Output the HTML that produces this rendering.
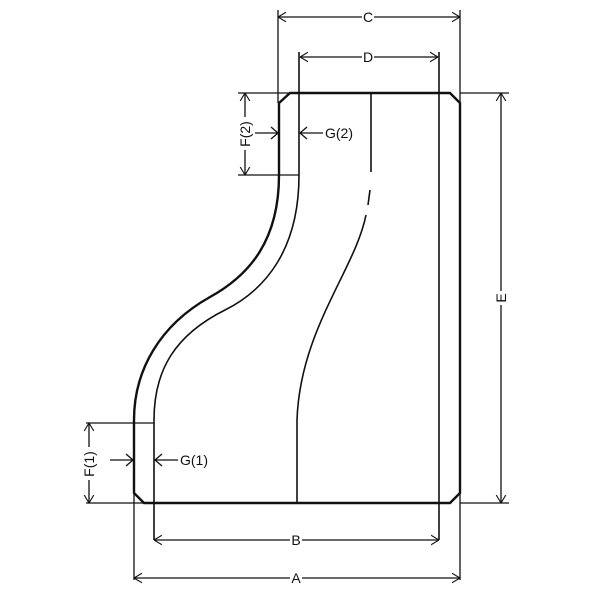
<!DOCTYPE html>
<html><head><style>html,body{margin:0;padding:0;background:#fff}svg{display:block}</style></head>
<body>
<svg width="600" height="600" viewBox="0 0 600 600" xmlns="http://www.w3.org/2000/svg">
<defs>
<marker id="a" viewBox="0 0 10 12" refX="10" refY="6" markerWidth="8" markerHeight="12" markerUnits="userSpaceOnUse" orient="auto-start-reverse">
<path d="M0,0 L10,6 L0,12" fill="none" stroke="#111" stroke-width="1.4"/></marker>
</defs>
<g fill="none" stroke="#111">
<path stroke-width="2.4" d="M290,93 L450,93 L460,103 L460,493 L450,503 L144,503 L134,493 L134,420 C134,370 160,325 210,297 C250,275 279,240 279,175 L279,103 Z"/>
<path stroke-width="1.6" d="M299,52 L299,175 C299,250 265,290 225,310 C175,335 154,370 154,420 L154,540"/>
<path stroke-width="1.6" d="M439,52 L439,540"/>
<path stroke-width="1.6" d="M371,93 L371,172"/>
<path stroke-width="1.6" d="M370,190 L368,205"/>
<path stroke-width="1.6" d="M366,215 C355,270 300,330 297,420 L297,503"/>
<path stroke-width="1.3" d="M278,10 L278,103 M460,10 L460,103 M134,493 L134,580 M460,493 L460,580 M460,93 L509,93 M460,503 L509,503 M238,93 L290,93 M238,175 L299,175 M86,423 L154,423 M86,503 L144,503"/>
<path stroke-width="1.3" marker-start="url(#a)" marker-end="url(#a)" d="M278,17 L362,17 M374,17 L460,17"/>
<path stroke-width="1.3" marker-start="url(#a)" marker-end="url(#a)" d="M300,57 L362,57 M374,57 L438,57"/>
<path stroke-width="1.3" marker-start="url(#a)" marker-end="url(#a)" d="M501,93 L501,291 M501,305 L501,503"/>
<path stroke-width="1.3" marker-start="url(#a)" marker-end="url(#a)" d="M154,540 L290,540 M302,540 L439,540"/>
<path stroke-width="1.3" marker-start="url(#a)" marker-end="url(#a)" d="M134,578 L290,578 M302,578 L460,578"/>
<path stroke-width="1.3" marker-start="url(#a)" marker-end="url(#a)" d="M245,93 L245,117 M245,150 L245,175"/>
<path stroke-width="1.3" marker-start="url(#a)" marker-end="url(#a)" d="M89,423 L89,447 M89,480 L89,503"/>
<path stroke-width="1.3" d="M255,133 L278,133 M271,127 L278,133 L271,139 M323,133 L300,133 M307,127 L300,133 L307,139 M110,460 L133,460 M126,454 L133,460 L126,466 M178,460 L155,460 M162,454 L155,460 L162,466"/>
</g>
<g font-family="Liberation Sans, sans-serif" font-size="14" fill="#111">
<text x="368" y="22" text-anchor="middle">C</text>
<text x="368" y="62" text-anchor="middle">D</text>
<text x="296" y="545" text-anchor="middle">B</text>
<text x="296" y="583" text-anchor="middle">A</text>
<text x="325" y="138">G(2)</text>
<text x="180" y="465">G(1)</text>
<text transform="translate(506,298) rotate(-90)" text-anchor="middle">E</text>
<text transform="translate(250,134) rotate(-90)" text-anchor="middle">F(2)</text>
<text transform="translate(94,464) rotate(-90)" text-anchor="middle">F(1)</text>
</g>
</svg>
</body></html>
